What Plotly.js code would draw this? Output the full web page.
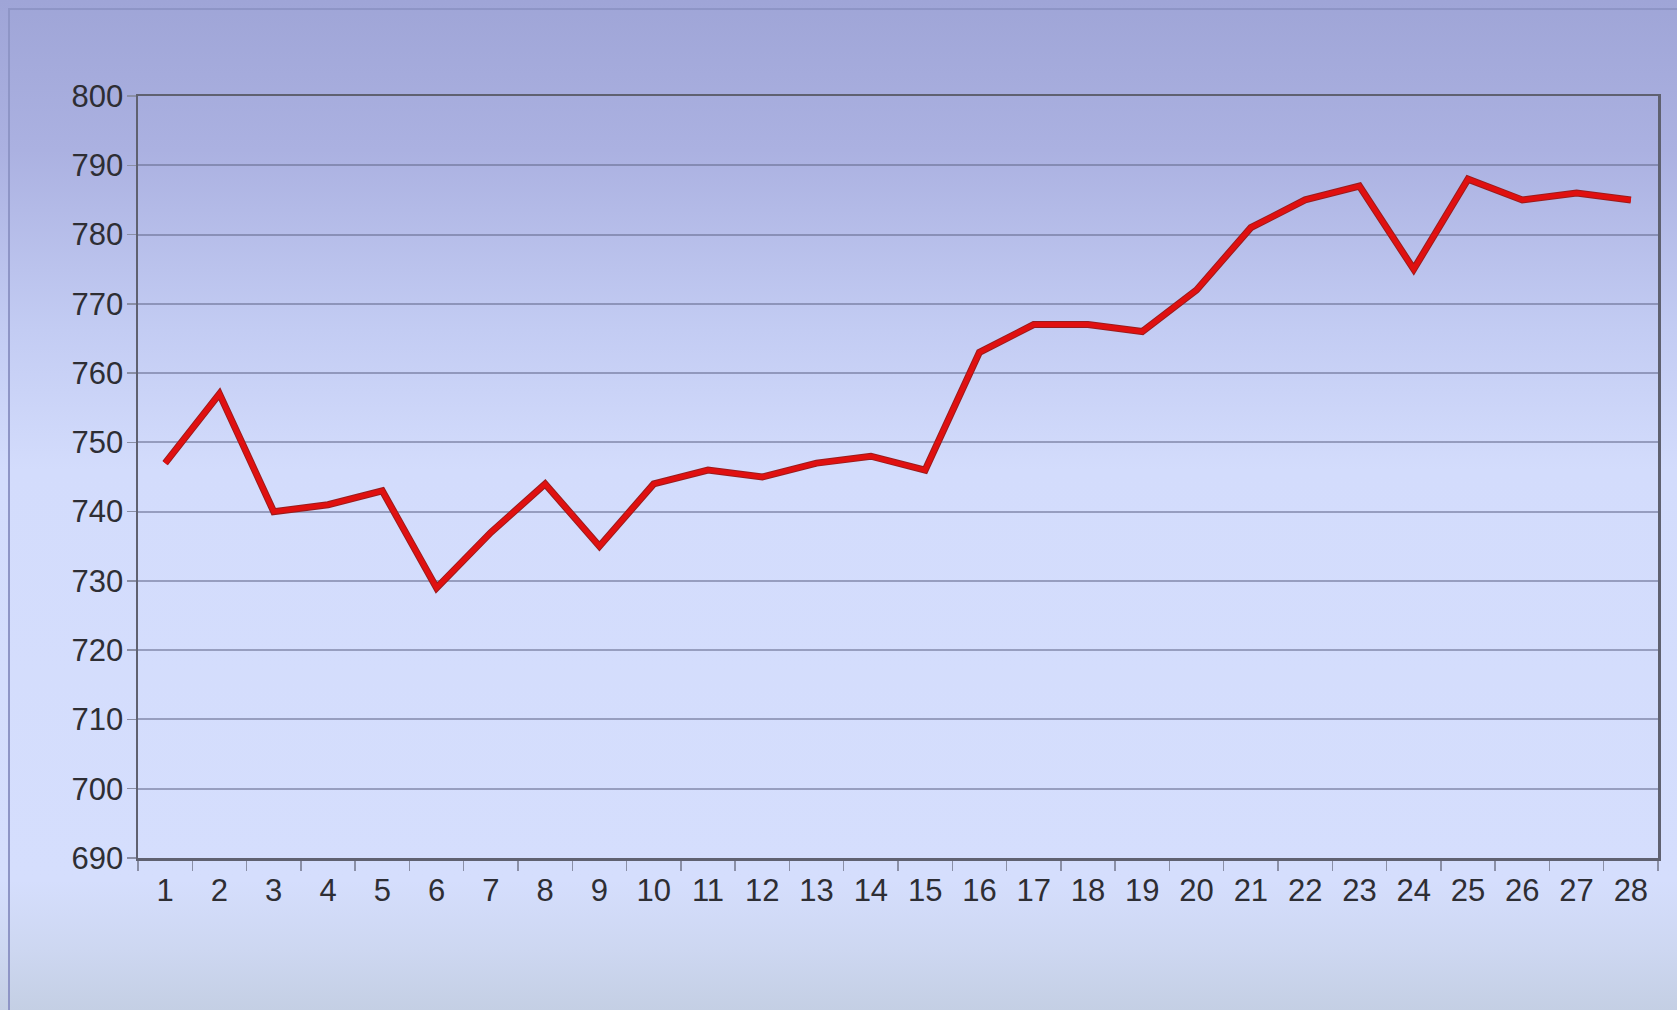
<!DOCTYPE html>
<html>
<head>
<meta charset="utf-8">
<script src="https://cdn.plot.ly/plotly-3.0.1.min.js"></script>
<style>
  html, body { margin: 0; padding: 0; width: 1677px; height: 1010px; overflow: hidden; }
  body {
    background: linear-gradient(to bottom, #9fa5d7 0px, #abb1e1 150px, #c3ccf3 330px, #d3dcfc 470px, #d5defd 880px, #cdd7f1 950px, #c4cfe4 1010px);
  }
  #frame { position: absolute; left: 8px; top: 8px; width: 1669px; height: 1002px;
    border-left: 2px solid #8e95c6; border-top: 2px solid #8e95c6; box-sizing: border-box; }
  #chart { position: absolute; left: 0; top: 0; width: 1677px; height: 1010px; }
</style>
</head>
<body>
<div id="frame"></div>
<div id="chart"></div>
<script>
const categories = ["1","2","3","4","5","6","7","8","9","10","11","12","13","14","15","16","17","18","19","20","21","22","23","24","25","26","27","28"];
const values = [747, 757, 740, 741, 743, 729, 737, 744, 735, 744, 746, 745, 747, 748, 746, 763, 767, 767, 766, 772, 781, 785, 787, 775, 788, 785, 786, 785];
const yTicks = [690, 700, 710, 720, 730, 740, 750, 760, 770, 780, 790, 800];

const outline = {
  x: categories,
  y: values,
  type: "scatter",
  mode: "lines",
  line: { color: "#9a1c1c", width: 7 },
  hoverinfo: "skip"
};
const trace = {
  x: categories,
  y: values,
  type: "scatter",
  mode: "lines",
  line: { color: "#e01010", width: 5 },
  hoverinfo: "x+y"
};

const layout = {
  width: 1677,
  height: 1010,
  margin: { l: 138, r: 19, t: 96, b: 152 },
  paper_bgcolor: "rgba(0,0,0,0)",
  plot_bgcolor: "rgba(0,0,0,0)",
  showlegend: false,
  font: { family: "Liberation Sans, Arial, sans-serif", size: 31, color: "#2e2e34" },
  xaxis: {
    type: "category",
    range: [-0.5, categories.length - 0.5],
    tickson: "boundaries",
    ticks: "outside",
    ticklen: 10,
    tickwidth: 1.5,
    tickcolor: "#8a8fa6",
    ticklabelstandoff: 3,
    showgrid: false,
    showline: true,
    linecolor: "#5f6170",
    linewidth: 2.5,
    mirror: true,
    zeroline: false,
    tickfont: { size: 31, color: "#2e2e34" },
    fixedrange: true
  },
  yaxis: {
    range: [690, 800],
    tickvals: yTicks,
    ticktext: yTicks.map(String),
    ticks: "outside",
    ticklen: 9,
    tickwidth: 1.5,
    tickcolor: "#8a8fa6",
    ticklabelstandoff: -3,
    showgrid: true,
    gridcolor: "rgba(100,106,140,0.55)",
    gridwidth: 2,
    showline: true,
    linecolor: "#5f6170",
    linewidth: 2.5,
    mirror: true,
    zeroline: false,
    tickfont: { size: 31, color: "#2e2e34" },
    fixedrange: true
  }
};

Plotly.newPlot("chart", [outline, trace], layout, { displayModeBar: false, staticPlot: true });
</script>
</body>
</html>
